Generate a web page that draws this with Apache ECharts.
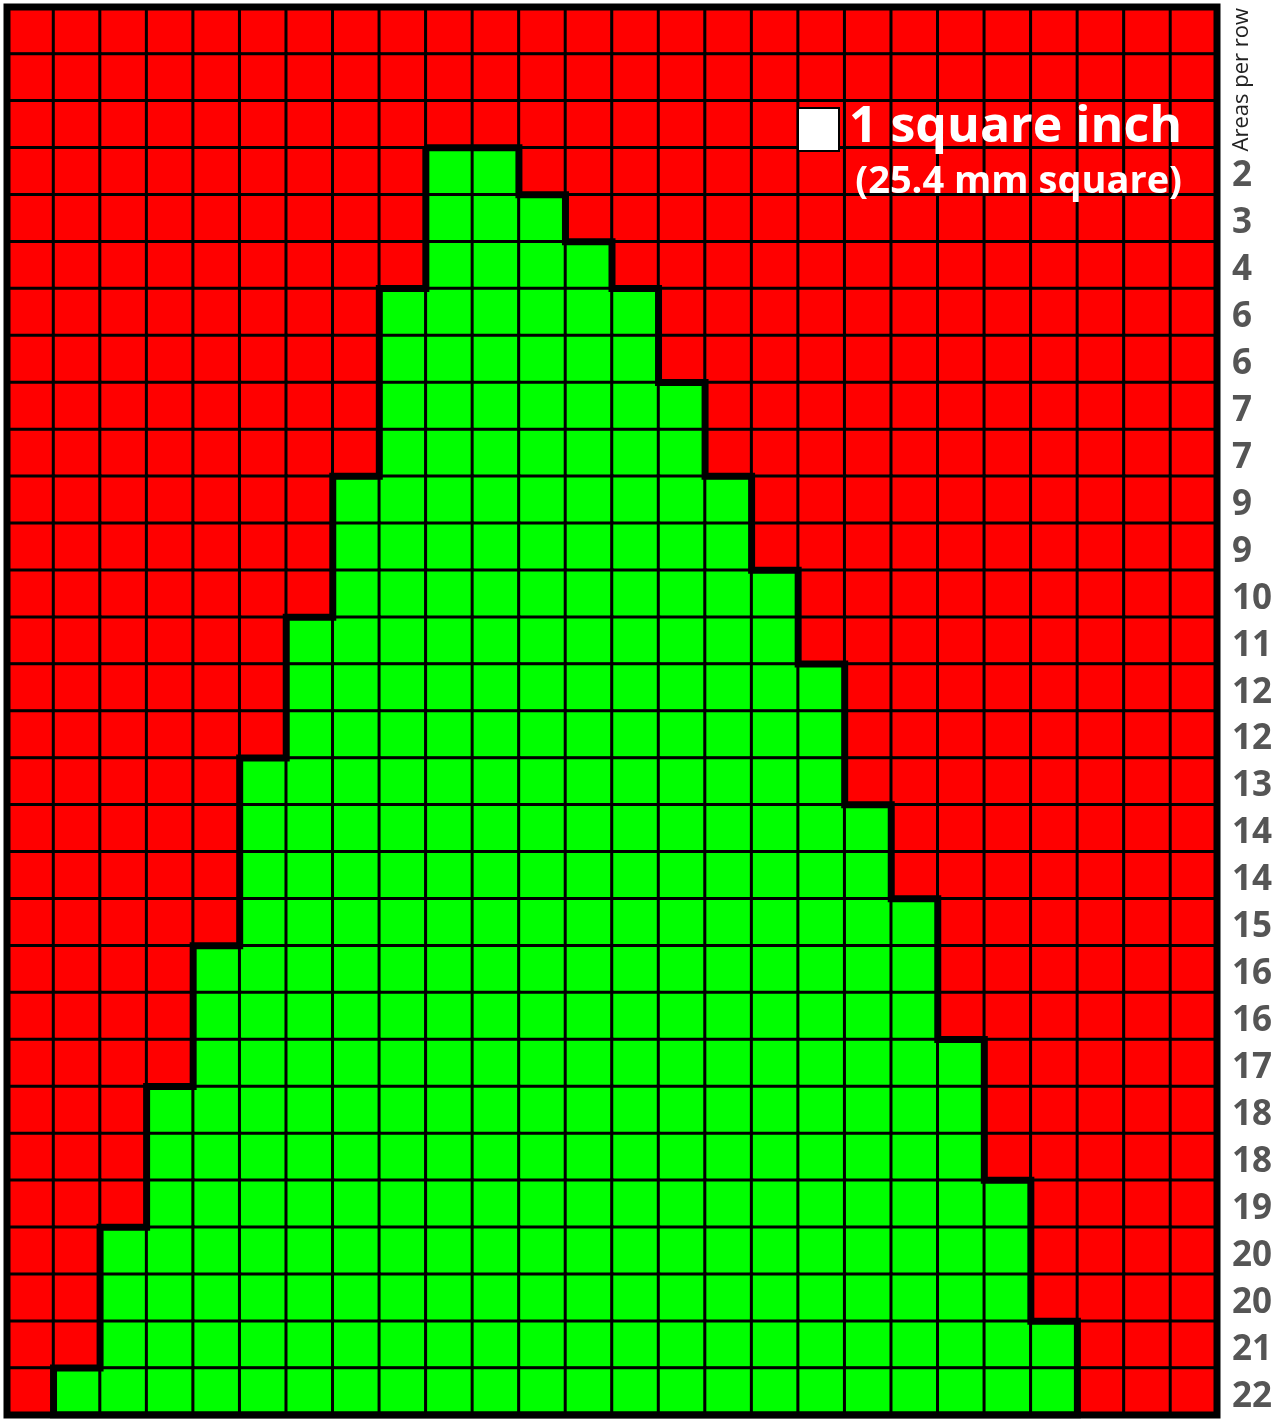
<!DOCTYPE html>
<html>
<head>
<meta charset="utf-8">
<script src="https://cdn.jsdelivr.net/npm/echarts@6/dist/echarts.min.js"></script>
<style>
	html, body { margin: 0; padding: 0; background: #fff; }
	#main { width: 1282px; height: 1421px; }
</style>
</head>
<body>
<div id="main"></div>
<script>
	// 网格：26 列 x 30 行，每格 1 平方英寸
	var colCount = 26;
	var rowCount = 30;
	// 每行绿色格子数（从上到下）
	var greenCounts = [0, 0, 0, 2, 3, 4, 6, 6, 7, 7, 9, 9, 10, 11, 12, 12, 13, 14, 14, 15, 16, 16, 17, 18, 18, 19, 20, 20, 21, 22];
	// 每行绿色区域起始列
	var greenStart = [0, 0, 0, 9, 9, 9, 8, 8, 8, 8, 7, 7, 7, 6, 6, 6, 5, 5, 5, 5, 4, 4, 4, 3, 3, 3, 2, 2, 2, 1];
	var legendTitle = '1 square inch';
	var legendSub = '(25.4 mm square)';
	var axisTitle = 'Areas per row';

	var cols = [];
	for (var c = 0; c < colCount; c++) cols.push('c' + c);
	var rows = [];
	for (var r = 0; r < rowCount; r++) rows.push('r' + r);

	// 单元格数据
	var cells = [];
	for (var r = 0; r < rowCount; r++) {
		for (var c = 0; c < colCount; c++) {
			var inside = greenCounts[r] > 0 && c >= greenStart[r] && c < greenStart[r] + greenCounts[r];
			cells.push([c, r, inside ? 1 : 0]);
		}
	}

	// 绿色区域外轮廓（阶梯）
	var outline = [];
	var first = -1, last = -1;
	for (var r = 0; r < rowCount; r++) {
		if (greenCounts[r] > 0) {
			if (first < 0) first = r;
			last = r;
		}
	}
	outline.push([greenStart[first], first]);
	for (var r = first; r <= last; r++) {
		var right = greenStart[r] + greenCounts[r];
		outline.push([right, r]);
		outline.push([right, r + 1]);
	}
	for (var r = last; r >= first; r--) {
		outline.push([greenStart[r], r + 1]);
		outline.push([greenStart[r], r]);
	}

	var gridPos = { left: 7, right: 65, top: 7, bottom: 6 };
	var font = 'Open Sans';

	var myChart = echarts.init(document.getElementById('main'));
	var option = {
		animation: false,
		backgroundColor: '#ffffff',
		grid: [
			Object.assign({ show: false }, gridPos),
			Object.assign({ show: true, borderColor: '#000', borderWidth: 7, backgroundColor: 'transparent', z: 10 }, gridPos)
		],
		xAxis: [{
			type: 'category', data: cols, gridIndex: 0,
			axisLine: { show: false }, axisTick: { show: false }, axisLabel: { show: false }, splitLine: { show: false }
		}, {
			type: 'value', gridIndex: 1, min: 0, max: colCount,
			axisLine: { show: false }, axisTick: { show: false }, axisLabel: { show: false }, splitLine: { show: false }
		}],
		yAxis: [{
			type: 'category', data: rows, gridIndex: 0, inverse: true, position: 'right',
			axisLine: { show: false }, axisTick: { show: false }, splitLine: { show: false },
			axisLabel: {
				show: true, margin: 15, align: 'left', verticalAlign: 'middle',
				formatter: function(v, i) {
					return greenCounts[i] > 0 ? '{n|' + greenCounts[i] + '}' : '';
				},
				rich: {
					n: { color: '#555', fontSize: 35, fontWeight: 'bold', fontFamily: font, padding: [10, 0, 0, 0] }
				}
			}
		}, {
			type: 'value', gridIndex: 1, min: 0, max: rowCount, inverse: true,
			axisLine: { show: false }, axisTick: { show: false }, axisLabel: { show: false }, splitLine: { show: false }
		}],
		visualMap: {
			show: false, type: 'piecewise', seriesIndex: 0, dimension: 2,
			pieces: [{ value: 0, color: '#ff0000' }, { value: 1, color: '#00ff00' }]
		},
		series: [{
			type: 'heatmap',
			xAxisIndex: 0, yAxisIndex: 0,
			data: cells,
			itemStyle: { borderColor: '#000', borderWidth: 3 },
			emphasis: { disabled: true }
		}, {
			type: 'line',
			xAxisIndex: 1, yAxisIndex: 1,
			data: outline,
			symbol: 'none',
			lineStyle: { color: '#000', width: 7, join: 'miter' },
			z: 5
		}],
		graphic: [{
			type: 'text',
			left: 1231, top: 8,
			rotation: Math.PI / 2,
			style: { text: axisTitle, fill: '#222', fontSize: 22, fontFamily: font }
		}, {
			type: 'rect',
			left: 797, top: 107,
			shape: { width: 41, height: 43 },
			style: { fill: '#fff', stroke: '#000', lineWidth: 2 },
			z: 20
		}, {
			type: 'text',
			right: 100, top: 103,
			style: { text: legendTitle, fill: '#fff', fontSize: 50, fontWeight: 'bold', fontFamily: font },
			z: 20
		}, {
			type: 'text',
			right: 100, top: 163,
			style: { text: legendSub, fill: '#fff', fontSize: 38, fontWeight: 'bold', fontFamily: font },
			z: 20
		}]
	};
	myChart.setOption(option);
</script>
</body>
</html>
